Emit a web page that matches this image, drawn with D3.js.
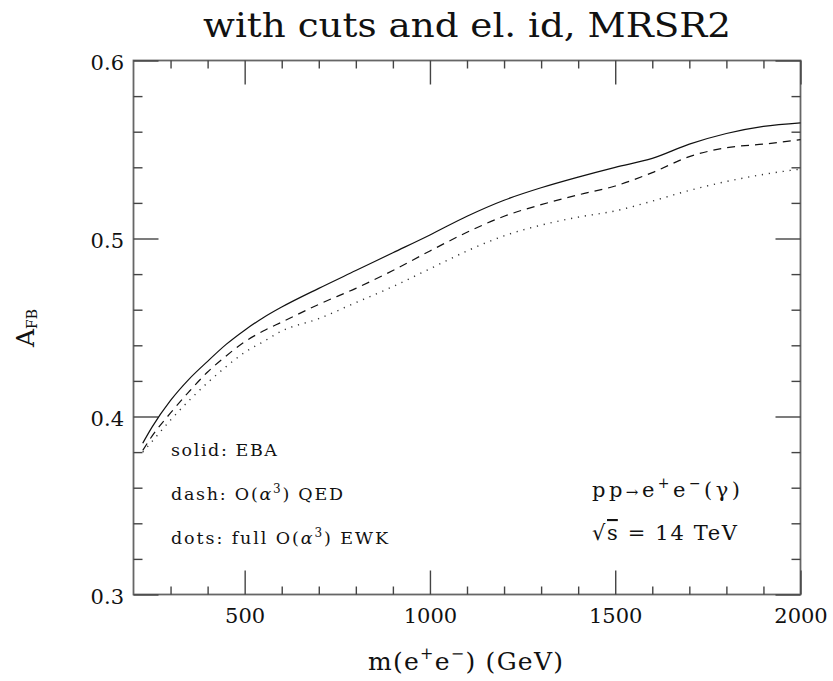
<!DOCTYPE html>
<html lang="en">
  <head>
    <meta charset="utf-8">
    <title>A_FB vs m(ee)</title>
    <style>
      body { margin: 0; background: #fff; }
      svg { display: block; }
      text { font-family: 'DejaVu Serif', serif; fill: #111; }
      .tick text { font-family: 'DejaVu Serif', serif; font-size: 21px; fill: #111; }
      .tick line { stroke: #444; stroke-width: 1.4; }
      .domain { display: none; }
    </style>
  </head>
  <body>
    <div id="viz"></div>
    <script src="https://d3js.org/d3.v7.min.js"></script>
    <script>
      // values
      const mass  = [225, 250, 300, 350, 400, 450, 500, 550, 600, 700, 800, 900, 1000, 1100, 1200, 1300, 1400, 1500, 1600, 1700, 1800, 1900, 2000];
      const solid = [0.385, 0.394, 0.409, 0.421, 0.431, 0.4405, 0.4485, 0.4555, 0.4615, 0.472, 0.482, 0.492, 0.502, 0.5125, 0.5215, 0.5285, 0.5345, 0.540, 0.545, 0.553, 0.559, 0.563, 0.565];
      const dash  = [0.381, 0.389, 0.402, 0.414, 0.425, 0.434, 0.442, 0.448, 0.453, 0.463, 0.472, 0.482, 0.493, 0.5035, 0.5125, 0.519, 0.5245, 0.5295, 0.537, 0.546, 0.551, 0.553, 0.5555];
      const dots  = [0.380, 0.386, 0.398, 0.409, 0.419, 0.428, 0.436, 0.442, 0.448, 0.455, 0.464, 0.473, 0.483, 0.493, 0.5015, 0.5075, 0.512, 0.5155, 0.521, 0.527, 0.532, 0.536, 0.539];

      const xMajor = [500, 1000, 1500, 2000];
      const xMinor = d3.range(300, 2000, 100).filter(v => v % 500 !== 0);
      const yMajor = [0.3, 0.4, 0.5, 0.6];
      const yMinor = d3.range(0.32, 0.6, 0.02).filter(v => Math.abs(v * 10 - Math.round(v * 10)) > 1e-6);

      const W = 833, H = 681;
      const mLeft = 133.5, mRight = 800.5, mTop = 60.5, mBottom = 594.5;

      const svg = d3.select("#viz").append("svg")
        .attr("width", W).attr("height", H);

      const x = d3.scaleLinear().domain([200, 2000]).range([mLeft, mRight]);
      const y = d3.scaleLinear().domain([0.3, 0.6]).range([mBottom, mTop]);

      // frame
      svg.append("rect")
        .attr("x", mLeft).attr("y", mTop)
        .attr("width", mRight - mLeft).attr("height", mBottom - mTop)
        .attr("fill", "none").attr("stroke", "#666").attr("stroke-width", 1.8);

      // bottom axis, inward ticks with labels
      svg.append("g").attr("transform", `translate(0,${mBottom})`)
        .call(d3.axisBottom(x).tickValues(xMajor).tickSize(-24).tickPadding(14).tickFormat(d3.format("d")));
      svg.append("g").attr("transform", `translate(0,${mBottom})`)
        .call(d3.axisBottom(x).tickValues(xMinor).tickSize(-8).tickFormat(""));
      // top axis
      svg.append("g").attr("transform", `translate(0,${mTop})`)
        .call(d3.axisTop(x).tickValues(xMajor).tickSize(-24).tickFormat(""));
      svg.append("g").attr("transform", `translate(0,${mTop})`)
        .call(d3.axisTop(x).tickValues(xMinor).tickSize(-8).tickFormat(""));

      // left axis
      svg.append("g").attr("transform", `translate(${mLeft},0)`)
        .call(d3.axisLeft(y).tickValues(yMajor).tickSize(-25).tickPadding(9.5).tickFormat(d3.format(".1f")))
        .call(g => g.selectAll(".tick text").attr("dy", "0.45em"));
      svg.append("g").attr("transform", `translate(${mLeft},0)`)
        .call(d3.axisLeft(y).tickValues(yMinor).tickSize(-9).tickFormat(""));
      // right axis
      svg.append("g").attr("transform", `translate(${mRight},0)`)
        .call(d3.axisRight(y).tickValues(yMajor).tickSize(-25).tickFormat(""));
      svg.append("g").attr("transform", `translate(${mRight},0)`)
        .call(d3.axisRight(y).tickValues(yMinor).tickSize(-9).tickFormat(""));

      // curves
      const line = d3.line().x(d => x(d[0])).y(d => y(d[1])).curve(d3.curveMonotoneX);
      const series = [
        { vals: solid, dasharray: null, width: 1.2, color: "#111" },
        { vals: dash,  dasharray: "8,6", width: 1.2, color: "#111" },
        { vals: dots,  dasharray: "1.2,5.8", width: 1.4, color: "#333" }
      ];
      svg.append("g").selectAll("path")
        .data(series)
        .join("path")
        .attr("d", s => line(mass.map((m, i) => [m, s.vals[i]])))
        .attr("fill", "none")
        .attr("stroke", s => s.color)
        .attr("stroke-width", s => s.width)
        .attr("stroke-dasharray", s => s.dasharray);

      // title
      svg.append("text")
        .attr("x", 203).attr("y", 37)
        .attr("font-size", 33)
        .attr("textLength", 528).attr("lengthAdjust", "spacingAndGlyphs")
        .text("with cuts and el. id, MRSR2");

      // x axis label
      const xl = svg.append("text").attr("x", 368).attr("y", 670)
        .attr("font-size", 25)
        .attr("textLength", 195).attr("lengthAdjust", "spacing");
      xl.append("tspan").text("m(e");
      xl.append("tspan").attr("font-size", 16).attr("dy", -11).text("+");
      xl.append("tspan").attr("dy", 11).text("e");
      xl.append("tspan").attr("font-size", 16).attr("dy", -11).text("−");
      xl.append("tspan").attr("dy", 11).text(")  (GeV)");

      // y axis label
      const yl = svg.append("text")
        .attr("transform", "translate(34,328) rotate(-90)")
        .attr("text-anchor", "middle").attr("font-size", 25);
      yl.append("tspan").text("A");
      yl.append("tspan").attr("font-size", 14).attr("dy", 3).text("FB");

      // legend
      const legend = [
        { y: 456, w: 106, parts: [["solid: EBA", 0]] },
        { y: 500, w: 172, parts: [["dash: O(", 0], ["α", 0], ["3", -7], [") QED", 7]] },
        { y: 544, w: 217, parts: [["dots: full O(", 0], ["α", 0], ["3", -7], [") EWK", 7]] }
      ];
      legend.forEach(l => {
        const t = svg.append("text").attr("x", 171).attr("y", l.y).attr("font-size", 17.5)
          .attr("textLength", l.w).attr("lengthAdjust", "spacing");
        l.parts.forEach(([s, dy]) => {
          const sp = t.append("tspan").attr("dy", dy).text(s);
          if (s === "3") sp.attr("font-size", 12);
          if (s === "α") sp.attr("font-style", "italic");
        });
      });

      // process label
      const p1 = svg.append("text").attr("x", 592).attr("y", 497).attr("font-size", 21)
        .attr("textLength", 148).attr("lengthAdjust", "spacing");
      p1.append("tspan").text("pp");
      p1.append("tspan").attr("font-size", 15).text("→");
      p1.append("tspan").text("e");
      p1.append("tspan").attr("font-size", 14).attr("dy", -9).text("+");
      p1.append("tspan").attr("dy", 9).text("e");
      p1.append("tspan").attr("font-size", 14).attr("dy", -9).text("−");
      p1.append("tspan").attr("dy", 9).text("(γ)");

      const p2 = svg.append("text").attr("x", 592).attr("y", 540).attr("font-size", 21)
        .attr("textLength", 145).attr("lengthAdjust", "spacing");
      p2.append("tspan").text("√");
      p2.append("tspan").attr("text-decoration", "overline").text("s");
      p2.append("tspan").text(" = 14 TeV");
    </script>
  </body>
</html>
